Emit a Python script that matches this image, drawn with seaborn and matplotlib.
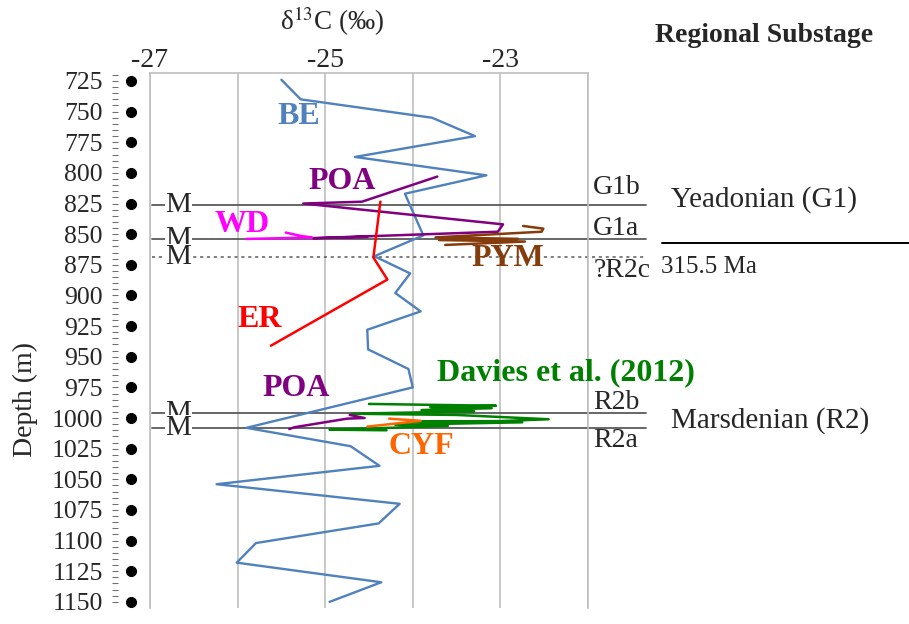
import numpy as np
import pandas as pd
import matplotlib
matplotlib.use('Agg')
import matplotlib.pyplot as plt
import matplotlib.transforms as mtransforms
import seaborn as sns

# carbon isotope profiles (d13C permil vs depth m)
be_x = [-25.50, -25.28, -23.78, -23.29, -24.66, -23.16, -24.09, -23.88, -24.44, -24.03,
        -24.20, -23.91, -24.52, -24.51, -24.05, -24.00, -25.90, -24.71, -24.38, -26.24,
        -24.15, -24.39, -25.79, -26.01, -24.36, -24.95]
be_d = [724, 740, 755, 770, 787, 802, 817, 851, 868, 882,
        898, 913, 928, 944, 960, 975, 1008, 1023, 1039, 1054,
        1070, 1086, 1102, 1118, 1134, 1150]

poa1_x = [-23.72, -24.58, -25.25, -22.97, -23.03, -25.14, -24.52, -24.95]
poa1_d = [803, 823.5, 825, 842, 848, 853.3, 852.2, 852.7]

wd_x = [-25.45, -25.28, -25.15, -25.90]
wd_d = [848.7, 851.4, 852.7, 853.9]

er_x = [-24.37, -24.45, -24.29, -25.62]
er_d = [823.5, 869, 887, 941]

pym_x = [-22.74, -22.51, -22.53, -23.74, -22.80, -23.70, -22.72, -23.63]
pym_d = [843.3, 845.5, 848, 852.6, 853.8, 854.8, 856, 858.8]

dav_x = [-24.50, -23.05, -23.80, -23.10, -23.90, -23.30, -24.70, -23.50, -22.45, -23.00,
         -24.00, -22.75, -24.20, -23.60, -24.95, -24.30]
dav_d = [988.5, 990, 991, 992, 993.5, 994.5, 996.5, 997.5, 1001, 1002.5,
         1003, 1003.5, 1005.5, 1006.5, 1009.5, 1010]

poa2_x = [-25.41, -25.35, -24.75, -24.55, -24.72]
poa2_d = [1009, 1007.5, 1000.5, 1000, 997.5]

cyf_x = [-24.52, -23.91, -24.27]
cyf_d = [1007, 1002.3, 1000.5]

series = {
    'BE': (be_x, be_d, '#4F81BD'),
    'POA': (poa1_x, poa1_d, '#800080'),
    'WD': (wd_x, wd_d, '#FF00FF'),
    'ER': (er_x, er_d, '#FF0000'),
    'PYM': (pym_x, pym_d, '#843C0C'),
    'Davies': (dav_x, dav_d, '#008000'),
    'POA2': (poa2_x, poa2_d, '#800080'),
    'CYF': (cyf_x, cyf_d, '#FF6600'),
}

# series labels: text, x, depth, colour
lbl_text = ['BE', 'POA', 'WD', 'ER', 'PYM', 'POA', 'Davies et al. (2012)', 'CYF']
lbl_x = [-25.30, -24.81, -25.95, -25.75, -22.91, -25.33, -22.25, -23.90]
lbl_d = [754, 807, 842, 920, 870, 976, 963, 1023.5]
lbl_col = ['#4F81BD', '#800080', '#FF00FF', '#FF0000', '#843C0C', '#800080', '#008000', '#FF6600']

# substage boundaries
bound_d = [826, 854, 868.6, 996, 1008]
bound_ls = ['-', '-', '--', '-', '-']
sub_text = ['G1b', 'G1a', '?R2c', 'R2b', 'R2a']
sub_d = [812, 845.5, 880, 987, 1018]

sns.set_style('white')
plt.rcParams['font.family'] = ['Liberation Serif', 'DejaVu Serif']
plt.rcParams['mathtext.fontset'] = 'stix'
plt.rcParams['axes.unicode_minus'] = False

fig = plt.figure(figsize=(9.09, 6.24), dpi=100)
ax = fig.add_axes([150 / 909, 1 - 608 / 624, 438 / 909, 535 / 624])

for name, (xs, ds, col) in series.items():
    df = pd.DataFrame({'d13c': xs, 'depth': ds})
    sns.lineplot(data=df, x='d13c', y='depth', sort=False, orient='y', estimator=None,
                 color=col, lw=1.7 if name == 'BE' else 1.8, ax=ax, zorder=3)

ax.set_xlim(-27, -22)
ax.set_ylim(1155, 718.5)
ax.set_xlabel('')
ax.set_ylabel('Depth (m)', fontsize=20)
ax.yaxis.set_label_coords(-0.255, 0.39)

# top axis
ax.xaxis.tick_top()
ax.set_xticks([-27, -26, -25, -24, -23, -22])
ax.set_xticklabels(['-27', '', '-25', '', '-23', ''], fontsize=20)
ax.tick_params(axis='x', length=0, pad=0)
ax.grid(axis='x', color='#BFBFBF', lw=1.2)
ax.grid(axis='y', visible=False)
for s in ['top', 'left', 'right']:
    ax.spines[s].set_color('#BFBFBF')
    ax.spines[s].set_linewidth(1.2)
ax.spines['bottom'].set_visible(False)

# depth axis with dotted ticks
yt = np.arange(725, 1151, 25)
ax.set_yticks(yt)
ax.set_yticklabels([str(v) for v in yt], fontsize=18.5)
ax.tick_params(axis='y', length=14, width=1.2, color='#404040', pad=20, direction='out')
trans = mtransforms.blended_transform_factory(ax.transAxes, ax.transData)
ax.plot(np.full(len(yt), -19 / 438), yt, 'o', color='black', ms=7, transform=trans, clip_on=False, zorder=5)

sec = ax.secondary_yaxis(-32 / 438)
sec.spines['left'].set_visible(False)
sec.set_yticks(np.arange(720, 1155, 5))
sec.set_yticklabels([])
sec.tick_params(axis='y', length=4.5, width=0.8, color='#707070', direction='out')

# boundaries with M markers
for d, ls in zip(bound_d, bound_ls):
    ax.plot([-26.98, -21.34], [d, d], ls=ls, color='#5A5A5A', lw=1.3 if ls == '-' else 1.1,
            dashes=(2, 2.5) if ls == '--' else (None, None), clip_on=False, zorder=2)
    ax.text(-26.675, d, 'M', fontsize=21, ha='center', va='center', zorder=4,
            bbox=dict(facecolor='white', edgecolor='none', pad=0.3))

for t, d in zip(sub_text, sub_d):
    ax.text(-21.94, d, t, fontsize=20, ha='left', va='center', clip_on=False)

ax.text(-21.05, 822, 'Yeadonian (G1)', fontsize=21, ha='left', va='center', clip_on=False)
ax.text(-21.05, 1002, 'Marsdenian (R2)', fontsize=21, ha='left', va='center', clip_on=False)
ax.text(-21.17, 876.5, '315.5 Ma', fontsize=18, ha='left', va='center', clip_on=False)
ax.plot([-21.16, -18.3], [857, 857], color='black', lw=1.4, clip_on=False)

for t, x, d, c in zip(lbl_text, lbl_x, lbl_d, lbl_col):
    ax.text(x, d, t, fontsize=23, fontweight='bold', color=c, ha='center', va='center', zorder=6)

fig.text(332 / 909, 1 - 21 / 624, r'δ$^{13}$C (‰)', fontsize=19.5, ha='center', va='center')
fig.text(764 / 909, 1 - 35 / 624, 'Regional Substage', fontsize=20, fontweight='bold',
         ha='center', va='center')

fig.savefig('out.png', dpi=100)
